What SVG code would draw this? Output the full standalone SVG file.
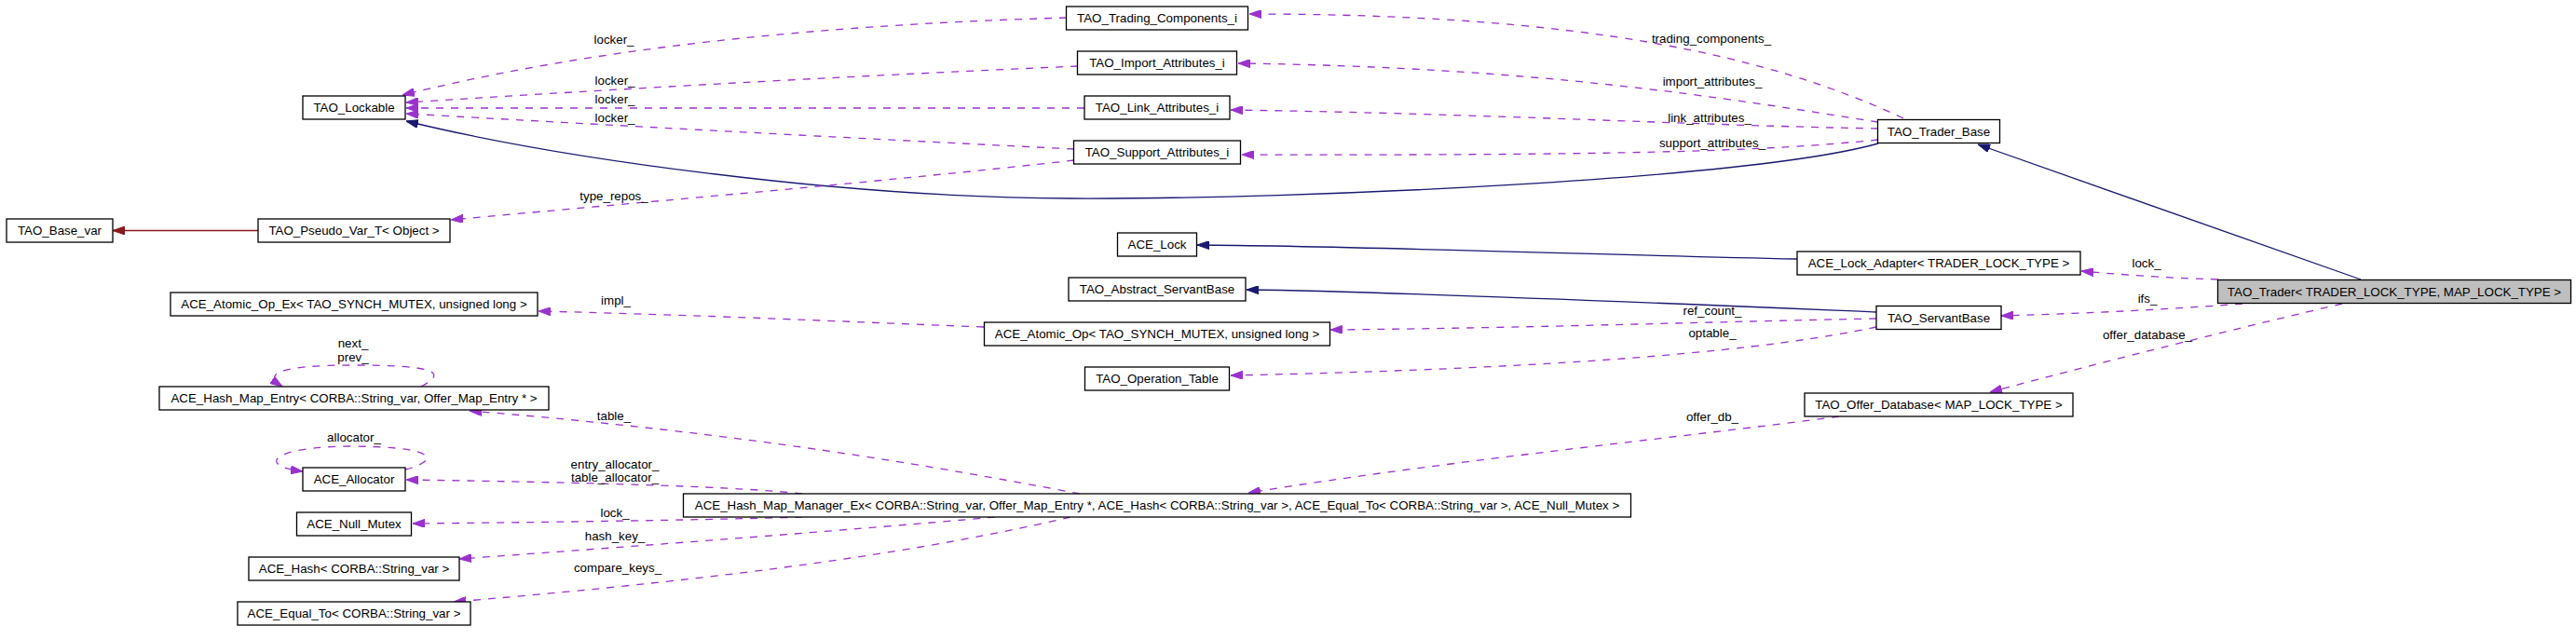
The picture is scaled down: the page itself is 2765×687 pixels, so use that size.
<svg xmlns="http://www.w3.org/2000/svg" width="2765" height="687" viewBox="0 0 2765 687">
<style>
text{font-family:"Liberation Sans",Arial,sans-serif;font-size:13.33px;fill:#000}
.n rect{fill:#fff;stroke:#000;stroke-width:1.3}
.n text{text-anchor:middle}
.l{text-anchor:middle}
.u{fill:none;stroke:#9a32cd;stroke-width:1.3;stroke-dasharray:8,8;marker-end:url(#ap)}
.b{fill:none;stroke:#191970;stroke-width:1.3;marker-end:url(#ab)}
.r{fill:none;stroke:#8b1a1a;stroke-width:1.3;marker-end:url(#ar)}
</style>
<defs>
<marker id="ap" viewBox="0 0 13 9" markerWidth="13" markerHeight="9" refX="13" refY="4.5" orient="auto" markerUnits="userSpaceOnUse"><path d="M0,0 L13,4.5 L0,9 z" fill="#9a32cd" stroke="#9a32cd"/></marker>
<marker id="ab" viewBox="0 0 13 9" markerWidth="13" markerHeight="9" refX="13" refY="4.5" orient="auto" markerUnits="userSpaceOnUse"><path d="M0,0 L13,4.5 L0,9 z" fill="#191970" stroke="#191970"/></marker>
<marker id="ar" viewBox="0 0 13 9" markerWidth="13" markerHeight="9" refX="13" refY="4.5" orient="auto" markerUnits="userSpaceOnUse"><path d="M0,0 L13,4.5 L0,9 z" fill="#8b1a1a" stroke="#8b1a1a"/></marker>
</defs>
<rect width="2765" height="687" fill="#fff"/>
<g id="edges">
<path class="b" d="M2016,154 C1880,192 1400,214 1150,213 C900,212 600,170 436,130"/>
<path class="b" d="M1929,278 C1700,273 1450,264 1285,263"/>
<path class="b" d="M2014,335 C1800,326 1500,313 1338,311"/>
<path class="b" d="M2534,300 L2123,155"/>
<path class="r" d="M277,247.5 L121,247.5"/>
<path class="u" d="M1145,19 C900,26 650,48 432,102"/>
<path class="u" d="M1157,71 C950,80 700,93 436,110"/>
<path class="u" d="M1164,116 L436,116"/>
<path class="u" d="M1153,160 C950,150 700,137 436,122"/>
<path class="u" d="M1153,172 C950,195 700,216 484,236"/>
<path class="u" d="M2043,127 C1900,60 1700,15 1341,15"/>
<path class="u" d="M2016,131 C1850,105 1650,72 1329,68"/>
<path class="u" d="M2016,138 C1800,134 1600,122 1321,118"/>
<path class="u" d="M2016,150 C1900,162 1750,167 1333,166"/>
<path class="u" d="M2381,300 C2320,298 2280,295 2234,291"/>
<path class="u" d="M2407,326 C2330,332 2250,336 2148,339"/>
<path class="u" d="M2514,326 C2420,348 2250,390 2136,421"/>
<path class="u" d="M2014,342 C1850,345 1650,352 1428,354"/>
<path class="u" d="M2014,351 C1900,375 1700,395 1321,403"/>
<path class="u" d="M1056,351 C900,345 750,338 578,334"/>
<path class="u" d="M1159,530 C1000,500 800,465 504,441"/>
<path class="u" d="M861,530 C800,523 650,518 436,515"/>
<path class="u" d="M861,555 C800,557 650,560 443,562"/>
<path class="u" d="M1068,555 C900,570 700,585 493,600"/>
<path class="u" d="M1149,555 C1000,590 800,620 487,646"/>
<path class="u" d="M1974,447 C1800,470 1550,495 1340,529"/>
<path class="u" d="M452,415 C480,400 470,392 380,392 C290,392 285,403 303,415"/>
<path class="u" d="M435,504 C470,495 475,480 380,479 C290,479 275,500 325,506"/>
<text class="l" x="659" y="47">locker_</text>
<text class="l" x="660" y="91">locker_</text>
<text class="l" x="660" y="111">locker_</text>
<text class="l" x="660" y="131">locker_</text>
<text class="l" x="659" y="215">type_repos_</text>
<text class="l" x="1837" y="46">trading_components_</text>
<text class="l" x="1838" y="92">import_attributes_</text>
<text class="l" x="1835" y="131">link_attributes_</text>
<text class="l" x="1838" y="158">support_attributes_</text>
<text class="l" x="2304" y="287">lock_</text>
<text class="l" x="2305" y="325">ifs_</text>
<text class="l" x="2305" y="364">offer_database_</text>
<text class="l" x="1838" y="338">ref_count_</text>
<text class="l" x="1838" y="362">optable_</text>
<text class="l" x="1838" y="452">offer_db_</text>
<text class="l" x="661" y="327">impl_</text>
<text class="l" x="659" y="451">table_</text>
<text class="l" x="660" y="503">entry_allocator_</text>
<text class="l" x="660" y="517">table_allocator_</text>
<text class="l" x="660" y="555">lock_</text>
<text class="l" x="660" y="580">hash_key_</text>
<text class="l" x="663" y="614">compare_keys_</text>
<text class="l" x="379" y="373">next_</text>
<text class="l" x="379" y="388">prev_</text>
<text class="l" x="380" y="474">allocator_</text>
</g>
<g id="TAO_Base_var" class="n"><rect x="7" y="235" width="114" height="25"/><text x="64" y="252">TAO_Base_var</text></g>
<g id="TAO_Lockable" class="n"><rect x="325" y="103" width="110" height="25"/><text x="380" y="120">TAO_Lockable</text></g>
<g id="TAO_Pseudo_Var_T" class="n"><rect x="277" y="235" width="206" height="25"/><text x="380" y="252">TAO_Pseudo_Var_T&lt; Object &gt;</text></g>
<g id="ACE_Atomic_Op_Ex" class="n"><rect x="183" y="314" width="394" height="25"/><text x="380" y="331">ACE_Atomic_Op_Ex&lt; TAO_SYNCH_MUTEX, unsigned long &gt;</text></g>
<g id="ACE_Hash_Map_Entry" class="n"><rect x="171" y="415" width="418" height="25"/><text x="380" y="432">ACE_Hash_Map_Entry&lt; CORBA::String_var, Offer_Map_Entry * &gt;</text></g>
<g id="ACE_Allocator" class="n"><rect x="325" y="502" width="110" height="25"/><text x="380" y="519">ACE_Allocator</text></g>
<g id="ACE_Null_Mutex" class="n"><rect x="318.5" y="550" width="123" height="25"/><text x="380" y="567">ACE_Null_Mutex</text></g>
<g id="ACE_Hash" class="n"><rect x="267" y="598" width="226" height="25"/><text x="380" y="615">ACE_Hash&lt; CORBA::String_var &gt;</text></g>
<g id="ACE_Equal_To" class="n"><rect x="255" y="646" width="250" height="25"/><text x="380" y="663">ACE_Equal_To&lt; CORBA::String_var &gt;</text></g>
<g id="TAO_Trading_Components_i" class="n"><rect x="1144.5" y="7" width="195" height="25"/><text x="1242" y="24">TAO_Trading_Components_i</text></g>
<g id="TAO_Import_Attributes_i" class="n"><rect x="1156.5" y="55" width="171" height="25"/><text x="1242" y="72">TAO_Import_Attributes_i</text></g>
<g id="TAO_Link_Attributes_i" class="n"><rect x="1164" y="103" width="156" height="25"/><text x="1242" y="120">TAO_Link_Attributes_i</text></g>
<g id="TAO_Support_Attributes_i" class="n"><rect x="1152.5" y="151" width="179" height="25"/><text x="1242" y="168">TAO_Support_Attributes_i</text></g>
<g id="ACE_Lock" class="n"><rect x="1199.5" y="250" width="85" height="25"/><text x="1242" y="267">ACE_Lock</text></g>
<g id="TAO_Abstract_ServantBase" class="n"><rect x="1147" y="298" width="190" height="25"/><text x="1242" y="315">TAO_Abstract_ServantBase</text></g>
<g id="ACE_Atomic_Op" class="n"><rect x="1056.5" y="346" width="371" height="25"/><text x="1242" y="363">ACE_Atomic_Op&lt; TAO_SYNCH_MUTEX, unsigned long &gt;</text></g>
<g id="TAO_Operation_Table" class="n"><rect x="1164.5" y="394" width="155" height="25"/><text x="1242" y="411">TAO_Operation_Table</text></g>
<g id="ACE_Hash_Map_Manager_Ex" class="n"><rect x="733.5" y="530" width="1017" height="25"/><text x="1242" y="547">ACE_Hash_Map_Manager_Ex&lt; CORBA::String_var, Offer_Map_Entry *, ACE_Hash&lt; CORBA::String_var &gt;, ACE_Equal_To&lt; CORBA::String_var &gt;, ACE_Null_Mutex &gt;</text></g>
<g id="TAO_Trader_Base" class="n"><rect x="2015.5" y="128.5" width="131" height="25"/><text x="2081" y="145.5">TAO_Trader_Base</text></g>
<g id="ACE_Lock_Adapter" class="n"><rect x="1929" y="270" width="304" height="25"/><text x="2081" y="287">ACE_Lock_Adapter&lt; TRADER_LOCK_TYPE &gt;</text></g>
<g id="TAO_ServantBase" class="n"><rect x="2014" y="328.5" width="134" height="25"/><text x="2081" y="345.5">TAO_ServantBase</text></g>
<g id="TAO_Offer_Database" class="n"><rect x="1937" y="422" width="288" height="25"/><text x="2081" y="439">TAO_Offer_Database&lt; MAP_LOCK_TYPE &gt;</text></g>
<g id="TAO_Trader" class="n"><rect x="2380.5" y="300.5" width="379" height="25" style="fill:#bfbfbf"/><text x="2570" y="317.5">TAO_Trader&lt; TRADER_LOCK_TYPE, MAP_LOCK_TYPE &gt;</text></g>
</svg>
